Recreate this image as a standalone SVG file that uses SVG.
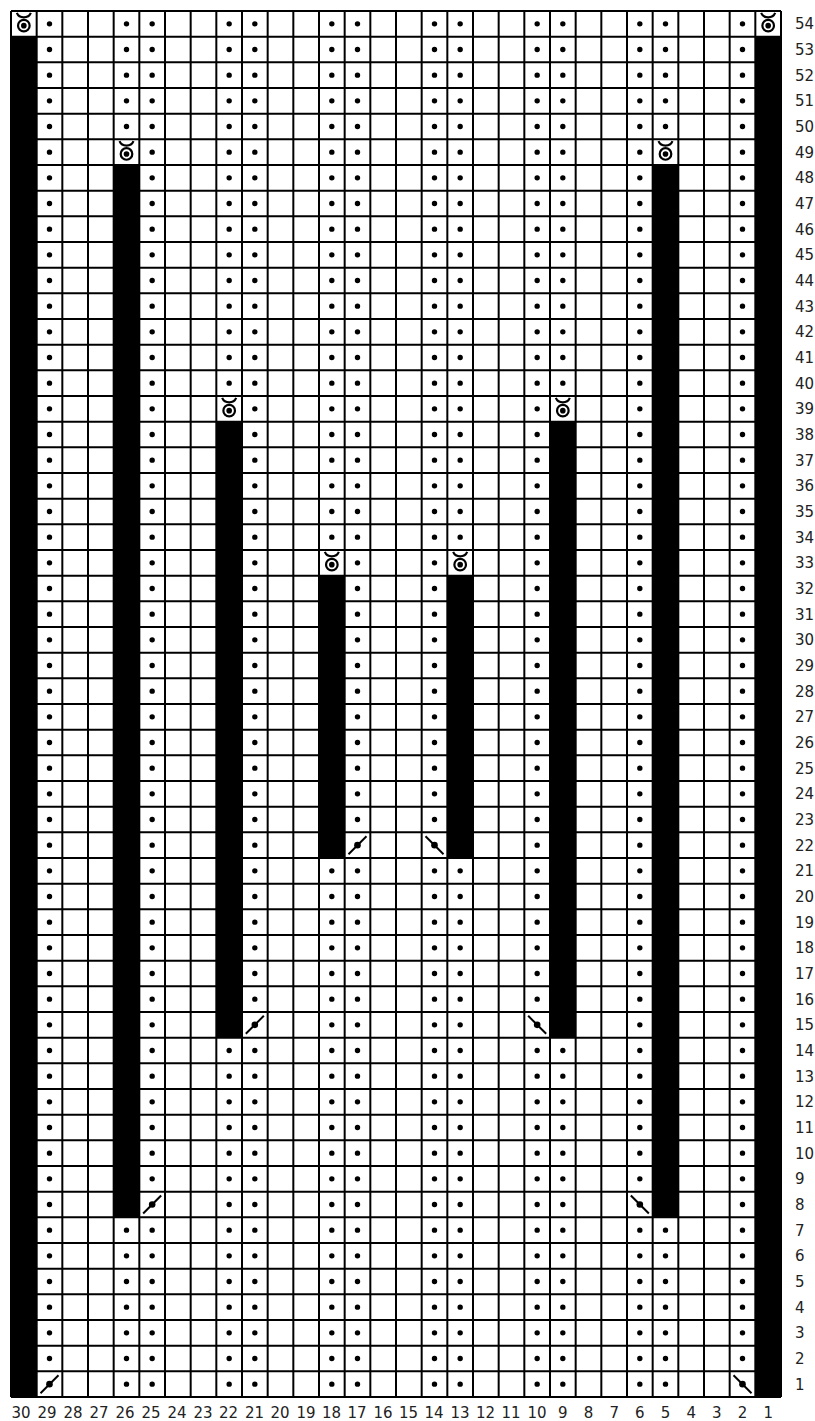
<svg xmlns="http://www.w3.org/2000/svg" width="815" height="1421" viewBox="0 0 815 1421">
<style>
.grid{stroke:#000;stroke-width:2;fill:none}
.blk{fill:#000}
.dots{stroke:#000;stroke-width:5.4;stroke-linecap:round;stroke-dasharray:0 25.6667;fill:none}
.sym{stroke:#000;stroke-width:2.2;fill:none}
.lbl{font-family:"DejaVu Sans",Verdana,sans-serif;font-size:15px;fill:#222}
.bl{text-anchor:middle}
</style>
<defs>
<g id="tuck">
<path class="sym" d="M-7 -11 C-4.5 -5 4.5 -5 7 -11"/>
<circle class="sym" cx="0" cy="1.8" r="5.8"/>
<circle cx="0" cy="1.8" r="2.8" fill="#000"/>
</g>
<g id="sl">
<line x1="-9" y1="9" x2="9" y2="-9" stroke="#000" stroke-width="2"/>
<circle r="3.3" fill="#000"/>
</g>
<g id="bs">
<line x1="-9" y1="-9" x2="9" y2="9" stroke="#000" stroke-width="2"/>
<circle r="3.3" fill="#000"/>
</g>
</defs>
<rect width="815" height="1421" fill="#fff"/>
<g id="grid">
<path class="grid" d="M11 11V1397M36.67 11V1397M62.33 11V1397M88 11V1397M113.67 11V1397M139.33 11V1397M165 11V1397M190.67 11V1397M216.33 11V1397M242 11V1397M267.67 11V1397M293.33 11V1397M319 11V1397M344.67 11V1397M370.33 11V1397M396 11V1397M421.67 11V1397M447.33 11V1397M473 11V1397M498.67 11V1397M524.33 11V1397M550 11V1397M575.67 11V1397M601.33 11V1397M627 11V1397M652.67 11V1397M678.33 11V1397M704 11V1397M729.67 11V1397M755.33 11V1397M781 11V1397"/>
<path class="grid" d="M11 11H781M11 36.67H781M11 62.33H781M11 88H781M11 113.67H781M11 139.33H781M11 165H781M11 190.67H781M11 216.33H781M11 242H781M11 267.67H781M11 293.33H781M11 319H781M11 344.67H781M11 370.33H781M11 396H781M11 421.67H781M11 447.33H781M11 473H781M11 498.67H781M11 524.33H781M11 550H781M11 575.67H781M11 601.33H781M11 627H781M11 652.67H781M11 678.33H781M11 704H781M11 729.67H781M11 755.33H781M11 781H781M11 806.67H781M11 832.33H781M11 858H781M11 883.67H781M11 909.33H781M11 935H781M11 960.67H781M11 986.33H781M11 1012H781M11 1037.67H781M11 1063.33H781M11 1089H781M11 1114.67H781M11 1140.33H781M11 1166H781M11 1191.67H781M11 1217.33H781M11 1243H781M11 1268.67H781M11 1294.33H781M11 1320H781M11 1345.67H781M11 1371.33H781M11 1397H781"/>
</g>
<g id="bars">
<rect class="blk" x="11" y="36.67" width="25.67" height="1360.33"/>
<rect class="blk" x="755.33" y="36.67" width="25.67" height="1360.33"/>
<rect class="blk" x="113.67" y="165" width="25.67" height="1052.33"/>
<rect class="blk" x="652.67" y="165" width="25.67" height="1052.33"/>
<rect class="blk" x="216.33" y="421.67" width="25.67" height="616"/>
<rect class="blk" x="550" y="421.67" width="25.67" height="616"/>
<rect class="blk" x="319" y="575.67" width="25.67" height="282.33"/>
<rect class="blk" x="447.33" y="575.67" width="25.67" height="282.33"/>
</g>
<g id="purl-dots">
<path class="dots" d="M49.5 23.83V1358.9"/>
<path class="dots" d="M742.5 23.83V1358.9"/>
<path class="dots" d="M126.5 23.83V126.9M126.5 1230.17V1384.5"/>
<path class="dots" d="M665.5 23.83V126.9M665.5 1230.17V1384.5"/>
<path class="dots" d="M152.17 23.83V1179.2M152.17 1230.17V1384.5"/>
<path class="dots" d="M639.83 23.83V1179.2M639.83 1230.17V1384.5"/>
<path class="dots" d="M229.17 23.83V383.5M229.17 1050.5V1384.5"/>
<path class="dots" d="M562.83 23.83V383.5M562.83 1050.5V1384.5"/>
<path class="dots" d="M254.83 23.83V999.5M254.83 1050.5V1384.5"/>
<path class="dots" d="M537.17 23.83V999.5M537.17 1050.5V1384.5"/>
<path class="dots" d="M331.83 23.83V537.5M331.83 870.83V1384.5"/>
<path class="dots" d="M460.17 23.83V537.5M460.17 870.83V1384.5"/>
<path class="dots" d="M357.5 23.83V819.9M357.5 870.83V1384.5"/>
<path class="dots" d="M434.5 23.83V819.9M434.5 870.83V1384.5"/>
</g>
<g id="symbols">
<use href="#tuck" x="23.83" y="23.83"/>
<use href="#tuck" x="768.17" y="23.83"/>
<use href="#tuck" x="126.5" y="152.17"/>
<use href="#tuck" x="665.5" y="152.17"/>
<use href="#tuck" x="229.17" y="408.83"/>
<use href="#tuck" x="562.83" y="408.83"/>
<use href="#tuck" x="331.83" y="562.83"/>
<use href="#tuck" x="460.17" y="562.83"/>
<use href="#sl" x="49.5" y="1384.17"/>
<use href="#sl" x="152.17" y="1204.5"/>
<use href="#sl" x="254.83" y="1024.83"/>
<use href="#sl" x="357.5" y="845.17"/>
<use href="#bs" x="742.5" y="1384.17"/>
<use href="#bs" x="639.83" y="1204.5"/>
<use href="#bs" x="537.17" y="1024.83"/>
<use href="#bs" x="434.5" y="845.17"/>
</g>
<g id="row-labels" class="lbl">
<text x="795" y="29.3">54</text>
<text x="795" y="55">53</text>
<text x="795" y="80.7">52</text>
<text x="795" y="106.3">51</text>
<text x="795" y="132">50</text>
<text x="795" y="157.7">49</text>
<text x="795" y="183.3">48</text>
<text x="795" y="209">47</text>
<text x="795" y="234.7">46</text>
<text x="795" y="260.3">45</text>
<text x="795" y="286">44</text>
<text x="795" y="311.7">43</text>
<text x="795" y="337.3">42</text>
<text x="795" y="363">41</text>
<text x="795" y="388.7">40</text>
<text x="795" y="414.3">39</text>
<text x="795" y="440">38</text>
<text x="795" y="465.7">37</text>
<text x="795" y="491.3">36</text>
<text x="795" y="517">35</text>
<text x="795" y="542.7">34</text>
<text x="795" y="568.3">33</text>
<text x="795" y="594">32</text>
<text x="795" y="619.7">31</text>
<text x="795" y="645.3">30</text>
<text x="795" y="671">29</text>
<text x="795" y="696.7">28</text>
<text x="795" y="722.3">27</text>
<text x="795" y="748">26</text>
<text x="795" y="773.7">25</text>
<text x="795" y="799.3">24</text>
<text x="795" y="825">23</text>
<text x="795" y="850.7">22</text>
<text x="795" y="876.3">21</text>
<text x="795" y="902">20</text>
<text x="795" y="927.7">19</text>
<text x="795" y="953.3">18</text>
<text x="795" y="979">17</text>
<text x="795" y="1004.7">16</text>
<text x="795" y="1030.3">15</text>
<text x="795" y="1056">14</text>
<text x="795" y="1081.7">13</text>
<text x="795" y="1107.3">12</text>
<text x="795" y="1133">11</text>
<text x="795" y="1158.7">10</text>
<text x="795" y="1184.3">9</text>
<text x="795" y="1210">8</text>
<text x="795" y="1235.7">7</text>
<text x="795" y="1261.3">6</text>
<text x="795" y="1287">5</text>
<text x="795" y="1312.7">4</text>
<text x="795" y="1338.3">3</text>
<text x="795" y="1364">2</text>
<text x="795" y="1389.7">1</text>
</g>
<g id="col-labels" class="lbl bl">
<text x="21" y="1418">30</text>
<text x="47" y="1418">29</text>
<text x="73" y="1418">28</text>
<text x="99" y="1418">27</text>
<text x="125" y="1418">26</text>
<text x="151" y="1418">25</text>
<text x="177" y="1418">24</text>
<text x="203" y="1418">23</text>
<text x="228.5" y="1418">22</text>
<text x="254.5" y="1418">21</text>
<text x="280" y="1418">20</text>
<text x="306" y="1418">19</text>
<text x="331.5" y="1418">18</text>
<text x="357" y="1418">17</text>
<text x="383" y="1418">16</text>
<text x="408.5" y="1418">15</text>
<text x="434" y="1418">14</text>
<text x="460" y="1418">13</text>
<text x="485.5" y="1418">12</text>
<text x="511" y="1418">11</text>
<text x="537" y="1418">10</text>
<text x="562.83" y="1418">9</text>
<text x="588.5" y="1418">8</text>
<text x="614.17" y="1418">7</text>
<text x="639.83" y="1418">6</text>
<text x="665.5" y="1418">5</text>
<text x="691.17" y="1418">4</text>
<text x="716.83" y="1418">3</text>
<text x="742.5" y="1418">2</text>
<text x="768.17" y="1418">1</text>
</g>
</svg>
